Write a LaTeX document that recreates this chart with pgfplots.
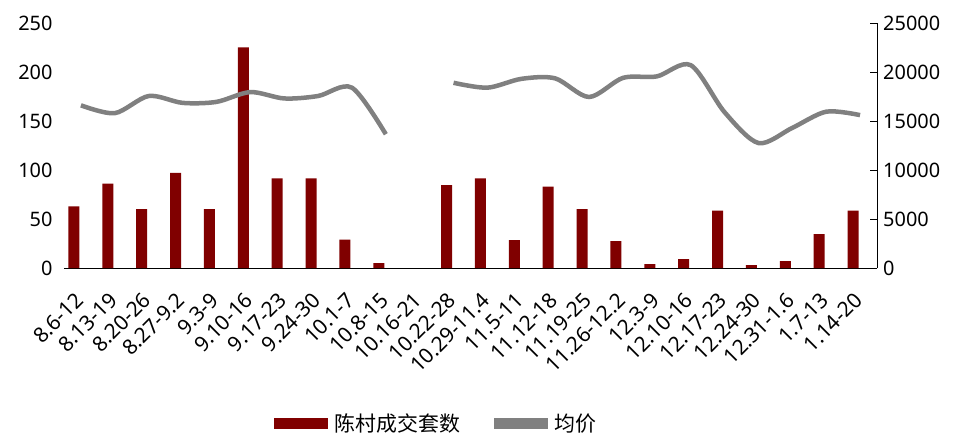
\documentclass[border=0pt]{standalone}
\usepackage{pgfplots}
\pgfplotsset{compat=1.18}
\usepackage{fontspec}
\setmainfont{Noto Sans}
\newfontfamily\cjk{Noto Sans CJK SC}
\definecolor{barred}{RGB}{128,0,0}
\definecolor{linegray}{RGB}{128,128,128}

\begin{document}
\begin{tikzpicture}
\pgfplotsset{
  width=813bp, height=245bp, scale only axis,
  xmin=-0.5, xmax=23.5,
  /pgf/number format/assume math mode=true,
  tick label style={font=\fontsize{20}{20}\selectfont},
}

% 成交套数 (左轴)
\begin{axis}[
  ymin=0, ymax=250,
  ytick={0,50,...,250},
  xtick={0,...,23},
  xticklabels={8.6-12,8.13-19,8.20-26,8.27-9.2,9.3-9,9.10-16,9.17-23,9.24-30,10.1-7,10.8-15,10.16-21,10.22-28,10.29-11.4,11.5-11,11.12-18,11.19-25,11.26-12.2,12.3-9,12.10-16,12.17-23,12.24-30,12.31-1.6,1.7-13,1.14-20},
  x tick label style={font=\fontsize{21}{21}\selectfont, xshift=-7bp, yshift=-23bp, rotate=45, anchor=north east, inner sep=0pt},
  axis x line*=bottom, axis y line*=left,
  y axis line style={draw=none},
  x axis line style={black, line width=0.8bp},
  major tick length=0pt,
  yticklabel style={xshift=-8bp},
]
\addplot[ybar, bar width=11bp, bar shift=-7bp, fill=barred, draw=none]
  coordinates{
    (0,63) (1,86) (2,60) (3,97) (4,60) (5,225) (6,91.5) (7,91.5) (8,29) (9,5)
    (11,84.5) (12,91.5) (13,28.5) (14,83) (15,60) (16,27.5) (17,4) (18,9)
    (19,58.5) (20,3) (21,7) (22,34.5) (23,58.5)
  };
\path (rel axis cs:0,0) coordinate (O) (rel axis cs:1,1) coordinate (T);
\end{axis}

% 均价 (右轴)
\begin{axis}[
  axis x line=none, axis y line*=right,
  ymin=0, ymax=25000,
  ytick={0,5000,...,25000},
  scaled y ticks=false,
  yticklabel style={/pgf/number format/1000 sep={}, xshift=6bp, inner sep=0pt},
  y axis line style={black, line width=0.8bp},
  tick align=inside, major tick length=7bp,
  tick style={black, line width=0.8bp},
  unbounded coords=jump,
  legend style={at={(0.458,-0.633)}, anchor=center, draw=none, fill=none,
    legend columns=2, font=\cjk\fontsize{21}{21}\selectfont,
    /tikz/every odd column/.append style={column sep=5bp},
    /tikz/every even column/.append style={column sep=32bp}},
]
\addplot[smooth, line width=4.5bp, linegray, no marks]
  coordinates{
    (0,16600) (1,15800) (2,17550) (3,16850) (4,16950) (5,17950) (6,17300)
    (7,17550) (8,18400) (9,13650) (10,nan) (11,18900) (12,18400) (13,19300)
    (14,19350) (15,17450) (16,19400) (17,19550) (18,20700) (19,15900)
    (20,12750) (21,14300) (22,15950) (23,15600)
  };
\addlegendimage{legend image code/.code={\fill[barred] (0bp,-5bp) rectangle (53bp,5bp);}}
\addlegendimage{legend image code/.code={\fill[linegray] (0bp,-5bp) rectangle (53bp,5bp);}}
\legend{,陈村成交套数,均价}
\end{axis}

\pgfresetboundingbox
\path ([shift={(-64bp,-166bp)}]O) rectangle ([shift={(79bp,23bp)}]T);
\end{tikzpicture}
\end{document}
